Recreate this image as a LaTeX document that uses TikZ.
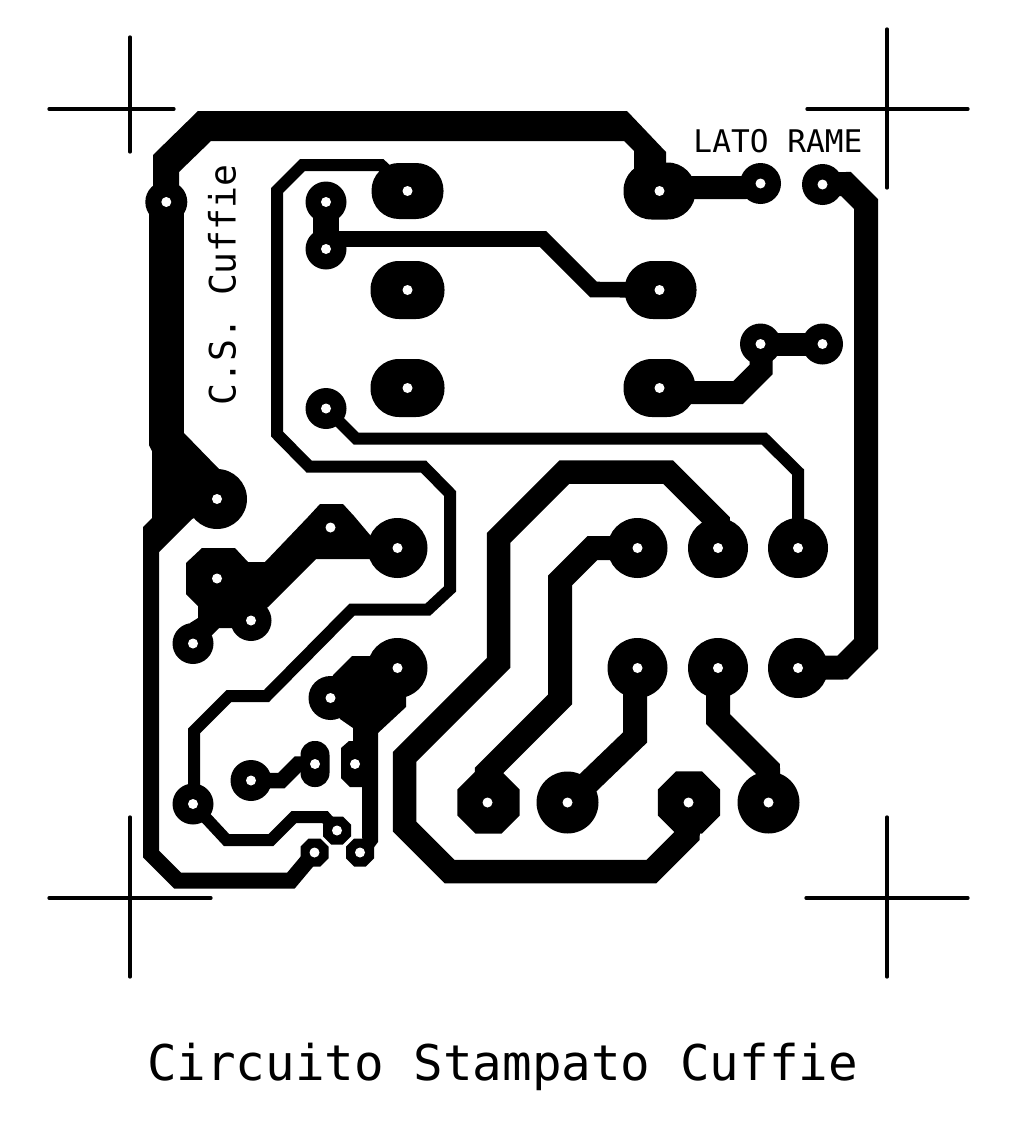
\documentclass[tikz,border=0pt]{standalone}
\usepackage{fontspec}
\setmonofont{DejaVu Sans Mono}
\usetikzlibrary{shapes.geometric}
\tikzset{
  pad/.style={circle,fill=black,inner sep=0pt,minimum size=#1},
  padoval/.style 2 args={rectangle,fill=black,inner sep=0pt,minimum width=#1,minimum height=#2,rounded corners=.49*#2},
  padocta/.style={regular polygon,regular polygon sides=8,fill=black,inner sep=0pt,minimum size=#1},
  hole/.style={circle,fill=white,inner sep=0pt,minimum size=10pt},
  track/.style={draw=black,line width=#1,line join=miter},
  cropmark/.style={draw=black,line width=3.3pt,line cap=round},
  silk/.style={inner sep=0pt,text=black,font=\ttfamily},
}
\begin{document}
\begin{tikzpicture}[x=1pt,y=-1pt]
  \useasboundingbox (0,0) rectangle (1025,1124);
  \draw[cropmark] (130,37) -- (130,152);
  \draw[cropmark] (49,109) -- (174,109);
  \draw[cropmark] (887,29) -- (887,188);
  \draw[cropmark] (807,109) -- (968,109);
  \draw[cropmark] (130,817) -- (130,977);
  \draw[cropmark] (49,898) -- (211,898);
  \draw[cropmark] (887,817) -- (887,977);
  \draw[cropmark] (806,898) -- (968,898);

  \node[pad=42pt] (top1) at (166.3,202) {};
  \node[pad=41pt] (in1) at (326,202) {};
  \node[pad=41pt] (in2) at (326,249) {};
  \node[pad=41pt] (in3) at (326,408.5) {};
  \node[padoval={72pt}{56pt}] (sw1) at (407.5,191) {};
  \node[padoval={74pt}{58pt}] (sw2) at (407.5,290) {};
  \node[padoval={74pt}{58pt}] (sw3) at (407.5,388) {};
  \node[padoval={72pt}{57pt}] (sw4) at (659.5,191) {};
  \node[padoval={72pt}{58pt}] (sw5) at (660.5,290) {};
  \node[padoval={72pt}{58pt}] (sw6) at (659.5,388) {};
  \node[pad=41pt] (out1) at (760.5,183.5) {};
  \node[pad=41pt] (out2) at (822.5,184.5) {};
  \node[pad=41pt] (out3) at (760.5,344) {};
  \node[pad=41pt] (out4) at (822.5,344) {};
  \node[pad=60pt] (cap1) at (217,499) {};
  \node[pad=60pt] (ic1) at (397.5,548) {};
  \node[pad=60pt] (ic2) at (397.5,668) {};
  \node[pad=60pt] (ic3) at (637.5,548) {};
  \node[pad=60pt] (ic4) at (718,548) {};
  \node[pad=60pt] (ic5) at (798,548) {};
  \node[pad=60pt] (ic6) at (637.5,668) {};
  \node[pad=60pt] (ic7) at (718,668) {};
  \node[pad=60pt] (ic8) at (798,668) {};
  \node[pad=41pt] (r1) at (251,620.5) {};
  \node[pad=41pt] (r2) at (193,643.5) {};
  \node[pad=44pt] (r3) at (330.5,698) {};
  \node[pad=41pt] (r4) at (251,780.5) {};
  \node[pad=41pt] (r5) at (193,804) {};
  \node[padoval={29pt}{46pt},rounded corners=14pt] (c1) at (315,764) {};
  \node[padocta=30.3pt] (t1) at (337,830.5) {};
  \node[padocta=30.3pt] (t2) at (314.5,852.5) {};
  \node[padocta=30.3pt] (t3) at (360,852.5) {};
  \node[padocta=67.6pt] (v1) at (488.5,802.5) {};
  \node[pad=62pt] (v2) at (567.5,802.5) {};
  \node[padocta=67.6pt] (v3) at (689,802.5) {};
  \node[pad=62pt] (v4) at (768.5,802.5) {};
  \coordinate (k1) at (217,578.5);
  \coordinate (k2) at (330.5,527.5);
  \coordinate (k3) at (355,764);

  \fill (153,155) -- (198,111) -- (627,111) -- (666,152) -- (666,170) -- (634,170) -- (634,151) -- (624,141) -- (211,141) -- (179,172) -- (179,190) -- (153,190) -- cycle;
  \draw[track=35pt] (top1.center) -- (166.3,445);
  \fill (149,440) -- (149,445) -- (152,451) -- (152,518) -- (143,527) -- (143,552) -- (159,552) -- (192,519) -- (230,500) -- (219,469) -- (184,433) -- cycle;
  \draw[track=16pt] (151,540) -- (151,854) -- (177.5,880.5) -- (291,880.5) -- (t2.center);
  \draw[track=12pt] (sw1.center) -- (381,165) -- (302.5,165) -- (277,190.5) -- (277,434) -- (309,466.5) -- (423.5,466.5) -- (450,493.5) -- (450,589) -- (428,609.5) -- (352,609.5) -- (266.5,696) -- (229,696) -- (194,731) -- (194,790) -- (r5.center);
  \draw[track=12pt] (r5.center) -- (226.5,840) -- (271,840) -- (294,817) -- (325,817) -- (t1.center);
  \draw[track=26pt] (in1.center) -- (in2.center);
  \draw[track=15.6pt] (in2.center) -- (326,239) -- (543,239) -- (593.5,289.5) -- (sw5.center);
  \draw[track=12pt] (in3.center) -- (356,438.5) -- (764,438.5) -- (798,472) -- (ic5.center);
  \draw[track=23pt] (sw4.center) -- (680,187.5) -- (745,187.5) -- (out1.center);
  \draw[track=24pt] (out2.center) -- (846,184) -- (866,204) -- (866,644) -- (842.5,667.5) -- (ic8.center);
  \draw[track=23pt] (out3.center) -- (out4.center);
  \draw[track=23pt] (sw6.center) -- (680,392.5) -- (738,392.5) -- (761,369.5) -- (761,350) -- (out3.center);
  \draw[track=23.5pt] (ic4.center) -- (718,522) -- (668,472) -- (564.5,472) -- (498.5,538) -- (498.5,663) -- (404.5,757) -- (404.5,826.5) -- (449.5,871.5) -- (651.5,871.5) -- (688,835) -- (v3.center);
  \draw[track=24pt] (ic3.center) -- (592.5,548) -- (560,580.5) -- (560,699.5) -- (487,772.5) -- (v1.center);
  \draw[track=24pt] (ic6.center) -- (635,690) -- (635,737.5) -- (v2.center);
  \draw[track=24pt] (ic7.center) -- (718,719) -- (768,769) -- (v4.center);
  \draw[track=15.5pt] (r4.center) -- (281.5,780.5) -- (298,764) -- (c1.center);
  \fill (202,548) -- (235,548) -- (248,562) -- (265,562) -- (308,517) -- (320,504) -- (343,504) -- (354,516) -- (370,535) -- (380,548) -- (370,559) -- (316,559) -- (268,607) -- (251,620) -- (232,628) -- (219,628) -- (212,635) -- (193,643) -- (190,623) -- (198,618) -- (198,606) -- (186,594) -- (186,563) -- cycle;
  \fill (333,675) -- (352,656) -- (371,656) -- (397,650) -- (406,695) -- (406,707) -- (378,733) -- (378,842) -- (372,850) -- (362,838) -- (362,787) -- (350,787) -- (341,778) -- (341,748) -- (349,741) -- (353,741) -- (353,728) -- (340,719) -- (330,698) -- cycle;

  \node[hole] (htop1) at (top1) {};
  \node[hole] (hin1) at (in1) {};
  \node[hole] (hin2) at (in2) {};
  \node[hole] (hin3) at (in3) {};
  \node[hole] (hsw1) at (sw1) {};
  \node[hole] (hsw2) at (sw2) {};
  \node[hole] (hsw3) at (sw3) {};
  \node[hole] (hsw4) at (659.5,191) {};
  \node[hole] (hsw5) at (659.5,290) {};
  \node[hole] (hsw6) at (sw6) {};
  \node[hole] (hout1) at (out1) {};
  \node[hole] (hout2) at (out2) {};
  \node[hole] (hout3) at (out3) {};
  \node[hole] (hout4) at (out4) {};
  \node[hole] (hcap1) at (cap1) {};
  \node[hole] (hic1) at (ic1) {};
  \node[hole] (hic2) at (ic2) {};
  \node[hole] (hic3) at (ic3) {};
  \node[hole] (hic4) at (ic4) {};
  \node[hole] (hic5) at (ic5) {};
  \node[hole] (hic6) at (ic6) {};
  \node[hole] (hic7) at (ic7) {};
  \node[hole] (hic8) at (ic8) {};
  \node[hole] (hr1) at (r1) {};
  \node[hole] (hr2) at (r2) {};
  \node[hole] (hr3) at (r3) {};
  \node[hole] (hr4) at (r4) {};
  \node[hole] (hr5) at (r5) {};
  \node[hole] (hc1) at (c1) {};
  \node[hole] (ht1) at (t1) {};
  \node[hole] (ht2) at (t2) {};
  \node[hole] (ht3) at (t3) {};
  \node[hole] (hv1) at (487.5,802.5) {};
  \node[hole] (hv2) at (v2) {};
  \node[hole] (hv3) at (688.5,802.5) {};
  \node[hole] (hv4) at (v4) {};
  \node[hole] (hk1) at (k1) {};
  \node[hole] (hk2) at (k2) {};
  \node[hole] (hk3) at (k3) {};

  \node[silk] (lato) at (778,141) {\fontsize{31.2}{32}\selectfont LATO RAME};
  \node[silk,rotate=90] (cs) at (222,285) {\fontsize{36.4}{37}\selectfont C.S. Cuffie};
  \node[silk] (title) at (502.5,1067) {\fontsize{49.2}{50}\selectfont Circuito Stampato Cuffie};
\end{tikzpicture}
\end{document}
